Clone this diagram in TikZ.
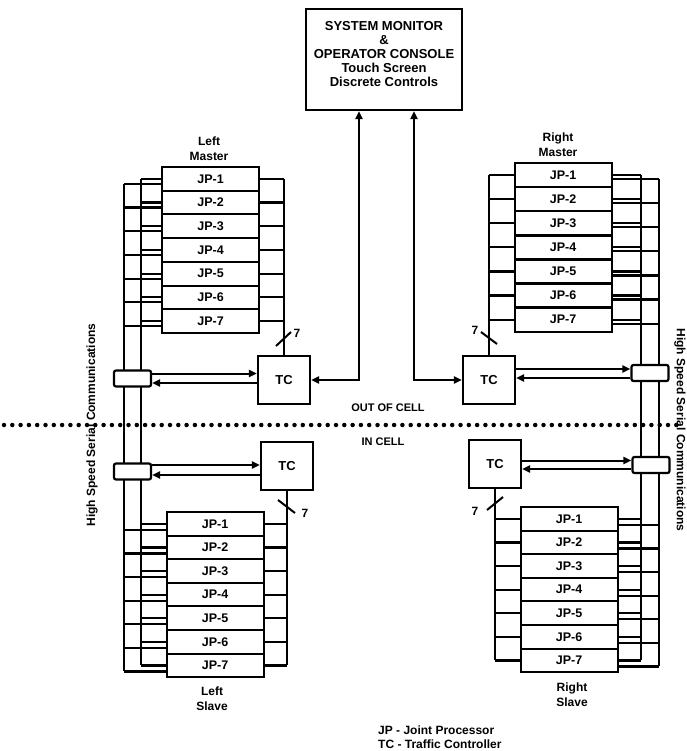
\documentclass[tikz,border=0pt]{standalone}
\usepackage{fontspec}
\setmainfont{Liberation Sans}
\usetikzlibrary{calc,arrows.meta}
\begin{document}
\begin{tikzpicture}[x=1pt,y=-1pt,
  every node/.style={font=\bfseries},
  ln/.style={line width=2.2pt, line join=miter},
  jp/.style={draw, line width=2pt, fill=white, minimum width=97pt, minimum height=23.7pt, inner sep=0pt, font=\fontsize{12.5}{14}\selectfont\bfseries},
  tc/.style={draw, line width=2.2pt, fill=white, minimum width=52pt, minimum height=48pt, inner sep=0pt, font=\fontsize{13}{15}\selectfont\bfseries},
  cpl/.style={draw, line width=2.2pt, fill=white, rounded corners=2pt, minimum width=37pt, minimum height=16pt, inner sep=0pt},
  arr/.style={line width=2pt, -{Triangle[length=8pt,width=7pt]}},
  darr/.style={line width=2pt, {Triangle[length=8pt,width=7pt]}-{Triangle[length=8pt,width=7pt]}},
  lbl/.style={font=\fontsize{12}{15}\selectfont\bfseries, align=center, inner sep=0pt},
  slash/.style={line width=2pt},
  ]
\useasboundingbox (0,0) rectangle (686,751);

% dotted boundary
\draw[line width=4.5pt, line cap=round, dash pattern=on 0pt off 8.3pt] (4,425) -- (684,425);
\node[font=\fontsize{11}{13}\selectfont\bfseries, inner sep=0pt] (out) at (388,408) {OUT OF CELL};
\node[font=\fontsize{11}{13}\selectfont\bfseries, inner sep=0pt] (in) at (383,442) {IN CELL};

% bus x positions
\coordinate (lin) at (141,0);
\coordinate (lout) at (124,0);
\coordinate (rin) at (641,0);
\coordinate (rout) at (659,0);

% JP stacks
\foreach \i in {1,...,7}{
  \node[jp] (lm\i) at (210.5,{167+23.7*(\i-0.5)}) {JP-\i};
  \node[jp] (ls\i) at (215,{512+23.6*(\i-0.5)}) {JP-\i};
  \node[jp] (rm\i) at (563,{163+24.1*(\i-0.5)}) {JP-\i};
  \node[jp] (rs\i) at (569,{507+23.6*(\i-0.5)}) {JP-\i};
}

% traffic controllers
\node[tc] (lmtc) at (284,380) {TC};
\node[tc] (lstc) at (287,466) {TC};
\node[tc] (rmtc) at (489,380) {TC};
\node[tc] (rstc) at (495,464) {TC};

% left ladders (two serial buses)
\foreach \i in {1,...,7}{
  \draw[ln] (lm\i.west) -- (lm\i.west -| lin);
  \draw[ln] ($(lm\i.west)+(0,5)$) -- ($(lm\i.west -| lout)+(0,5)$);
  \draw[ln] (ls\i.west) -- (ls\i.west -| lin);
  \draw[ln] ($(ls\i.west)+(0,6)$) -- ($(ls\i.west -| lout)+(0,6)$);
  \draw[ln] (rm\i.east) -- (rm\i.east -| rin);
  \draw[ln] ($(rm\i.east)+(0,4)$) -- ($(rm\i.east -| rout)+(0,4)$);
  \draw[ln] (rs\i.east) -- (rs\i.east -| rin);
  \draw[ln] ($(rs\i.east)+(0,6)$) -- ($(rs\i.east -| rout)+(0,6)$);
  % local bus to traffic controller
  \draw[ln] (lm\i.east) -- (lm\i.east -| lmtc.north);
  \draw[ln] (ls\i.east) -- (ls\i.east -| lstc.south);
  \draw[ln] (rm\i.west) -- (rm\i.west -| rmtc.north);
  \draw[ln] (rs\i.west) -- (rs\i.west -| rstc.south);
}
% serial bus verticals
\draw[ln] (lm1.west -| lin) -- (ls7.west -| lin);
\draw[ln] ($(lm1.west -| lout)+(0,5)$) -- ($(ls7.west -| lout)+(0,6)$);
\draw[ln] (rm1.east -| rin) -- (rs7.east -| rin);
\draw[ln] ($(rm1.east -| rout)+(0,4)$) -- ($(rs7.east -| rout)+(0,6)$);
% local bus verticals
\draw[ln] (lm1.east -| lmtc.north) -- (lmtc.north);
\draw[ln] (lstc.south) -- (ls7.east -| lstc.south);
\draw[ln] (rm1.west -| rmtc.north) -- (rmtc.north);
\draw[ln] (rstc.south) -- (rs7.west -| rstc.south);

% slash marks with 7
\draw[slash] (276,346) -- (291,332);
\node[lbl] (n1) at (297,333) {7};
\draw[slash] (278,500) -- (295,513);
\node[lbl] (n2) at (305,513) {7};
\draw[slash] (481,332) -- (497,344);
\node[lbl] (n3) at (475,330) {7};
\draw[slash] (487,510) -- (503,497);
\node[lbl] (n4) at (475,511) {7};

% bus couplers
\node[cpl] (lmc) at (132.5,378.5) {};
\node[cpl] (lsc) at (132.5,471.5) {};
\node[cpl] (rmc) at (650,373) {};
\node[cpl] (rsc) at (651,465) {};

% coupler <-> TC arrows
\path ($(lmc.east)+(0,-5)$) coordinate (lmu) ($(lmc.east)+(0,4.5)$) coordinate (lmd);
\draw[arr] (lmu) -- (lmu -| lmtc.west);
\draw[arr] (lmd -| lmtc.west) -- (lmd);
\path ($(lsc.east)+(0,-6.5)$) coordinate (lsu) ($(lsc.east)+(0,3.5)$) coordinate (lsd);
\draw[arr] (lsu) -- (lsu -| lstc.west);
\draw[arr] (lsd -| lstc.west) -- (lsd);
\path ($(rmc.west)+(0,-4)$) coordinate (rmu) ($(rmc.west)+(0,5)$) coordinate (rmd);
\draw[arr] (rmu -| rmtc.east) -- (rmu);
\draw[arr] (rmd) -- (rmd -| rmtc.east);
\path ($(rsc.west)+(0,-4.5)$) coordinate (rsu) ($(rsc.west)+(0,4)$) coordinate (rsd);
\draw[arr] (rsu -| rstc.east) -- (rsu);
\draw[arr] (rsd) -- (rsd -| rstc.east);

% console
\node[draw, line width=2.2pt, minimum width=156pt, minimum height=101pt, inner sep=0pt] (con) at (384,59.5) {};
\node[align=center, inner sep=0pt, font=\fontsize{13}{14}\selectfont\bfseries] (contxt) at (384,54.5) {SYSTEM MONITOR\\\&\\OPERATOR CONSOLE\\Touch Screen\\Discrete Controls};
\draw[darr] ([xshift=-25pt]con.south) |- (lmtc.east);
\draw[darr] ([xshift=30pt]con.south) |- (rmtc.west);

% labels
\node[lbl] (lml) at (209,149) {Left\\Master};
\node[lbl] (rml) at (558,145) {Right\\Master};
\node[lbl] (lsl) at (212,699) {Left\\Slave};
\node[lbl] (rsl) at (572,695) {Right\\Slave};
\node[lbl, rotate=90] (hsl) at (92,425) {High Speed Serial Communications};
\node[lbl, rotate=-90] (hsr) at (680,430) {High Speed Serial Communications};
\node[lbl, align=left, anchor=west, font=\fontsize{12}{14}\selectfont\bfseries] (leg) at (378,737) {JP - Joint Processor\\TC - Traffic Controller};
\end{tikzpicture}
\end{document}
